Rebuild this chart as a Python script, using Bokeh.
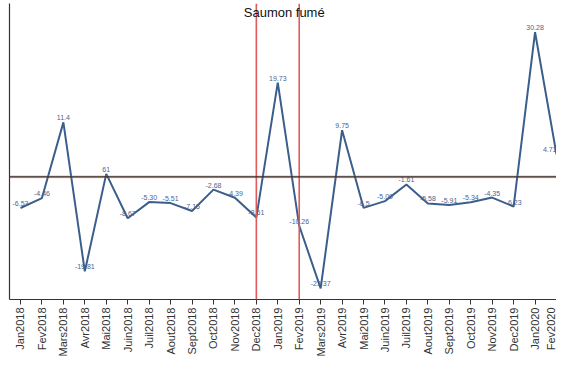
from bokeh.plotting import figure
from bokeh.models import FixedTicker, Span, Label, ColumnDataSource, Range1d
from bokeh.core.properties import value
from bokeh.embed import file_html
from bokeh.resources import INLINE
import math

months = ["Jan2018", "Fev2018", "Mars2018", "Avr2018", "Mai2018", "Juin2018", "Juil2018",
          "Aout2018", "Sept2018", "Oct2018", "Nov2018", "Dec2018", "Jan2019", "Fev2019",
          "Mars2019", "Avr2019", "Mai2019", "Juin2019", "Juil2019", "Aout2019", "Sept2019",
          "Oct2019", "Nov2019", "Dec2019", "Jan2020", "Fev2020"]
values = [-6.53, -4.46, 11.4, -19.81, 0.61, -8.67, -5.30, -5.51, -7.15, -2.68, -4.39, -8.51,
          19.73, -10.26, -23.37, 9.75, -6.5, -5.09, -1.61, -5.58, -5.91, -5.34, -4.35, -6.23,
          30.28, 4.71]
labels = ["-6.53", "-4.46", "11.4", "-19.81", "61", "-8.67", "-5.30", "-5.51", "-7.15", "-2.68",
          "-4.39", "-8.51", "19.73", "-10.26", "-23.37", "9.75", "-6.5", "-5.09", "-1.61",
          "-5.58", "-5.91", "-5.34", "-4.35", "-6.23", "30.28", "4.71"]
marked_months = ["Dec2018", "Fev2019"]
title_text = "Saumon fumé"

FONT = "Liberation Sans"
idx = list(range(len(months)))
aligns = ["center"] * (len(months) - 1) + ["right"]

p = figure(width=556, height=359, output_backend="svg", toolbar_location=None,
           x_range=Range1d(-0.513, 25.0), y_range=Range1d(-25.7, 36.3),
           min_border_left=9, min_border_right=0, min_border_top=3, min_border_bottom=0)
p.outline_line_color = None
p.grid.visible = False
p.background_fill_color = "white"

# axes
p.xaxis.ticker = FixedTicker(ticks=idx)
p.xaxis.major_label_overrides = {i: m for i, m in enumerate(months)}
p.xaxis.major_label_orientation = math.pi / 2
p.xaxis.major_label_text_font = FONT
p.xaxis.major_label_text_font_size = "11px"
p.xaxis.major_label_text_color = "#333333"
p.xaxis.major_label_standoff = 3
p.xaxis.major_tick_out = 5
p.xaxis.major_tick_in = 0
p.xaxis.minor_tick_out = 0
p.xaxis.minor_tick_in = 0
p.xaxis.axis_line_color = "#333333"
p.xaxis.major_tick_line_color = "#333333"

p.yaxis.ticker = FixedTicker(ticks=[])
p.yaxis.major_label_text_font_size = "0px"
p.yaxis.major_tick_out = 0
p.yaxis.minor_tick_out = 0
p.yaxis.axis_line_color = "#333333"
p.yaxis.axis_line_width = 1.2

# red marker lines
for m in marked_months:
    p.add_layout(Span(location=months.index(m), dimension="height",
                      line_color="#e05a5a", line_width=1.6))

# zero line
p.add_layout(Span(location=0, dimension="width", line_color="#e07050", line_width=3, line_alpha=0.35))
p.add_layout(Span(location=0, dimension="width", line_color="#2a2a2a", line_width=1.3))

src = ColumnDataSource(dict(x=idx, y=values, t=labels, a=aligns))
p.line("x", "y", source=src, line_color="#3b5f8c", line_width=2)
p.text("x", "y", text="t", source=src, text_font=value(FONT), text_font_size="7px",
       text_color="#4a6592", text_align="a", text_baseline="bottom", y_offset=-2)

p.add_layout(Label(x=12.3, y=34.4, text=title_text, text_font=FONT, text_font_size="13px",
                   text_color="#111111", text_align="center", text_baseline="middle"))

open("out.html", "w").write(file_html(p, INLINE))
